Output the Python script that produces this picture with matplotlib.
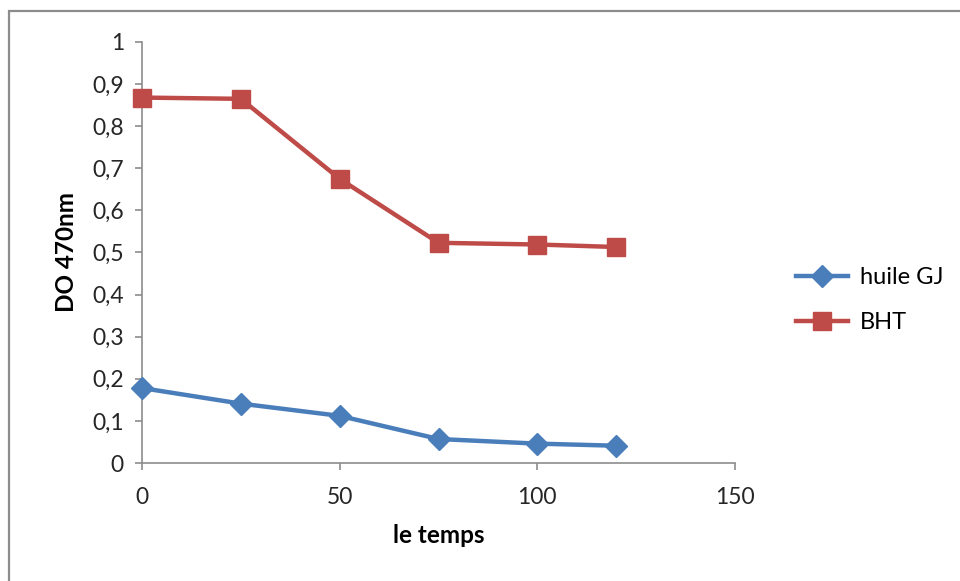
import matplotlib
matplotlib.use("Agg")
import matplotlib.pyplot as plt
from matplotlib.ticker import FuncFormatter, MultipleLocator
from matplotlib.patches import Rectangle

temps = [0, 25, 50, 75, 100, 120]
huile_gj = [0.178, 0.141, 0.112, 0.057, 0.046, 0.041]
bht = [0.868, 0.865, 0.675, 0.523, 0.519, 0.513]
series_labels = ["huile GJ", "BHT"]

plt.rcParams['font.family'] = ['Lato', 'DejaVu Sans']

fig = plt.figure(figsize=(9.6, 5.81), dpi=100)
fig.patches.append(Rectangle((9/960, -0.05), 1.2, 1 - 11/581 + 0.05, transform=fig.transFigure,
                             fill=False, edgecolor='#8c8c8c', linewidth=1.6))
ax = fig.add_axes([142/960, 1 - 463/581, (735 - 142)/960, (463 - 42)/581])

blue = '#4A7EBB'
red = '#BE4B48'
ax.plot(temps, huile_gj, color=blue, linewidth=3.2, marker='D', markersize=11,
        label=series_labels[0], zorder=3, clip_on=False)
ax.plot(temps, bht, color=red, linewidth=3.2, marker='s', markersize=13,
        label=series_labels[1], zorder=3, clip_on=False)

ax.set_xlim(0, 150)
ax.set_ylim(0, 1)
ax.xaxis.set_major_locator(MultipleLocator(50))
ax.yaxis.set_major_locator(MultipleLocator(0.1))
fmt = FuncFormatter(lambda v, p: ('%g' % round(v, 2)).replace('.', ','))
ax.xaxis.set_major_formatter(fmt)
ax.yaxis.set_major_formatter(fmt)

for s in ['top', 'right']:
    ax.spines[s].set_visible(False)
for s in ['left', 'bottom']:
    ax.spines[s].set_color('#8c8c8c')
    ax.spines[s].set_linewidth(1.2)
ax.tick_params(axis='both', direction='out', length=5, width=1.2, color='#8c8c8c',
               labelsize=16.5, labelcolor='#262626')
ax.tick_params(axis='y', pad=8)
ax.tick_params(axis='x', pad=12)

ax.set_xlabel('le temps', fontsize=17.5, fontweight='bold', labelpad=12)
ax.set_ylabel('DO 470nm', fontsize=17.5, fontweight='bold', labelpad=10)

ax.legend(loc='center left', bbox_to_anchor=(775/960, 1 - 300/581), bbox_transform=fig.transFigure,
          frameon=False, fontsize=17, handlelength=2.2, labelspacing=1.0, handletextpad=0.5)

fig.savefig('out.png', dpi=100)
